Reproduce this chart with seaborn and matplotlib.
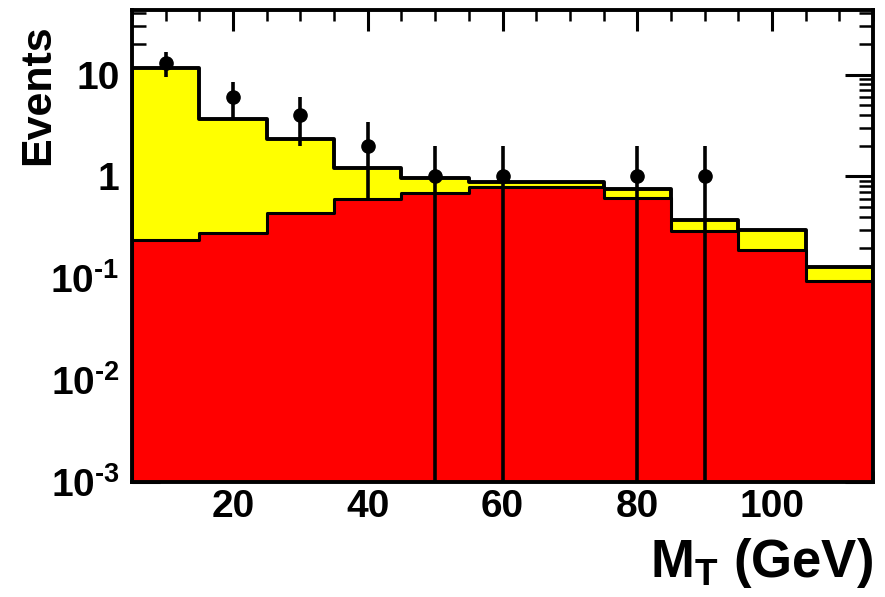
import matplotlib
matplotlib.use("Agg")
import matplotlib.pyplot as plt
import matplotlib.ticker as mticker
import numpy as np
import pandas as pd
import seaborn as sns

# ---- data ----
bin_edges = [5, 15, 25, 35, 45, 55, 65, 75, 85, 95, 105, 115]
bin_centers = [10, 20, 30, 40, 50, 60, 70, 80, 90, 100, 110]
total_bkg = [11.7, 3.7, 2.35, 1.22, 0.97, 0.88, 0.88, 0.75, 0.37, 0.30, 0.128]
red_bkg = [0.24, 0.28, 0.44, 0.60, 0.68, 0.78, 0.78, 0.61, 0.29, 0.19, 0.093]
data_x = [10, 20, 30, 40, 50, 60, 80, 90]
data_y = [13, 6, 4, 2, 1, 1, 1, 1]
data_err = [3.6, 2.45, 2.0, 1.41, 1.0, 1.0, 1.0, 1.0]
y_tick_vals = [1e-3, 1e-2, 1e-1, 1, 10]
y_tick_labels = [r"$10^{\text{-3}}$", r"$10^{\text{-2}}$", r"$10^{\text{-1}}$", "1", "10"]
x_tick_vals = [20, 40, 60, 80, 100]

sns.set_theme(style="ticks")
plt.rcParams["font.family"] = ["Liberation Sans", "DejaVu Sans"]
plt.rcParams["font.weight"] = "bold"
plt.rcParams["mathtext.fontset"] = "custom"
plt.rcParams["mathtext.rm"] = "Liberation Sans:bold"
plt.rcParams["mathtext.it"] = "Liberation Sans:bold"
plt.rcParams["mathtext.bf"] = "Liberation Sans:bold"
for k in ["text.color", "axes.labelcolor", "xtick.color", "ytick.color",
          "axes.edgecolor"]:
    plt.rcParams[k] = "black"

df = pd.DataFrame({"x": bin_centers, "total": total_bkg, "red": red_bkg})

fig = plt.figure(figsize=(8.85, 5.97), dpi=100)
ax = fig.add_axes([132 / 885, 1 - 482 / 597, (873 - 132) / 885, (482 - 10) / 597])

sns.histplot(data=df, x="x", weights="total", bins=bin_edges, element="step",
             fill=True, color="#ffff00", alpha=1, edgecolor="black",
             linewidth=2.8, ax=ax)
sns.histplot(data=df, x="x", weights="red", bins=bin_edges, element="step",
             fill=True, color="#ff0000", alpha=1, edgecolor="black",
             linewidth=2.2, ax=ax)

ax.set_yscale("log")
ax.errorbar(data_x, data_y, yerr=data_err, fmt="o", color="black",
            ms=9.5, elinewidth=2.6, capsize=0, zorder=5)

ax.set_xlim(5, 115)
ax.set_ylim(1e-3, 43)

ax.xaxis.set_major_locator(mticker.FixedLocator(x_tick_vals))
ax.xaxis.set_minor_locator(mticker.MultipleLocator(5))
ax.yaxis.set_major_locator(mticker.FixedLocator(y_tick_vals))
ax.yaxis.set_major_formatter(mticker.FixedFormatter(y_tick_labels))
ax.yaxis.set_minor_locator(mticker.LogLocator(base=10, subs=np.arange(2, 10)))
ax.yaxis.set_minor_formatter(mticker.NullFormatter())
ax.set_xticklabels([str(v) for v in x_tick_vals])

ax.tick_params(axis="both", which="both", direction="in", top=True, right=True,
               color="black", labelcolor="black")
ax.tick_params(axis="x", which="major", length=15, width=2.2, labelsize=28, pad=5)
ax.tick_params(axis="x", which="minor", length=8, width=1.8)
ax.tick_params(axis="y", which="major", length=20, width=2.2, labelsize=28, pad=9)
ax.tick_params(axis="y", which="minor", length=10, width=1.8)
for lab in ax.get_xticklabels() + ax.get_yticklabels():
    lab.set_fontweight("bold")

for sp in ax.spines.values():
    sp.set_linewidth(2.8)
    sp.set_color("black")
    sp.set_zorder(10)

ax.set_xlabel("")
ax.set_ylabel("")
fig.text(873 / 885, 1 - 563 / 597, r"M$_{\mathrm{T}}$ (GeV)", ha="right", va="center",
         fontsize=38, fontweight="bold")
fig.text(38 / 885, 1 - 95 / 597, "Events", rotation=90, ha="center", va="center",
         fontsize=31, fontweight="bold")

fig.savefig("out.png", dpi=100)
